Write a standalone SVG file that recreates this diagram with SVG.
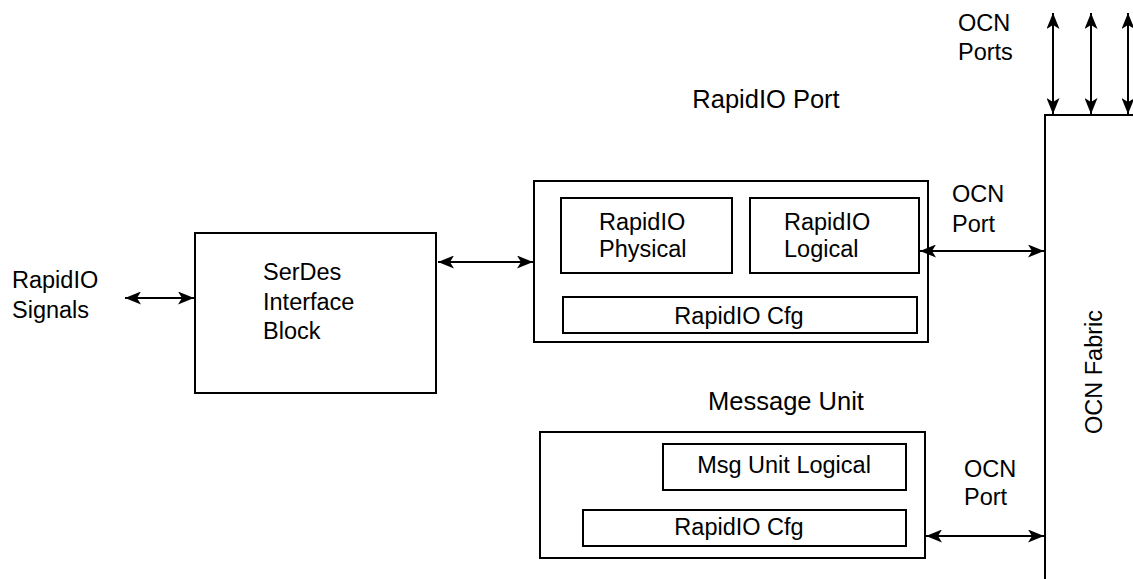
<svg xmlns="http://www.w3.org/2000/svg" width="1133" height="579" viewBox="0 0 1133 579">
<style>
.box{fill:none;stroke:#000;stroke-width:2}
.ln{fill:none;stroke:#000;stroke-width:2}
text{font-family:"Liberation Sans",Arial,sans-serif;font-size:23.5px;fill:#000}
.title{font-size:25.5px}
</style>
<defs>
<marker id="ah" markerWidth="17" markerHeight="13" refX="16" refY="6.5" orient="auto-start-reverse" markerUnits="userSpaceOnUse">
<path d="M0,0 L16,6.5 L0,13 L4,6.5 Z" fill="#000"/>
</marker>
</defs>
<rect width="1133" height="579" fill="#fff"/>
<g id="fabric">
<path class="ln" d="M1045,579 L1045,115 L1133,115"/>
<text transform="translate(1102,372) rotate(-90)" text-anchor="middle">OCN Fabric</text>
</g>
<g id="ocn-ports-label">
<text x="958" y="31">OCN</text>
<text x="958" y="60">Ports</text>
</g>
<g id="signals-label">
<text x="12" y="288">RapidIO</text>
<text x="12" y="318">Signals</text>
</g>
<g id="serdes">
<rect class="box" x="195" y="233" width="241" height="160"/>
<text x="263" y="280">SerDes</text>
<text x="263" y="310">Interface</text>
<text x="263" y="339">Block</text>
</g>
<g id="rapidio-port">
<text class="title" x="766" y="108" text-anchor="middle">RapidIO Port</text>
<rect class="box" x="534" y="181" width="394" height="161"/>
<g id="physical">
<rect class="box" x="561" y="198" width="171" height="75"/>
<text x="599" y="230">RapidIO</text>
<text x="599" y="257">Physical</text>
</g>
<g id="logical">
<rect class="box" x="750" y="198" width="169" height="75"/>
<text x="784" y="230">RapidIO</text>
<text x="784" y="257">Logical</text>
</g>
<g id="port-cfg">
<rect class="box" x="563" y="297" width="354" height="36"/>
<text x="739" y="324" text-anchor="middle">RapidIO Cfg</text>
</g>
</g>
<g id="message-unit">
<text class="title" x="786" y="410" text-anchor="middle">Message Unit</text>
<rect class="box" x="540" y="432" width="385" height="126"/>
<g id="msg-logical">
<rect class="box" x="663" y="444" width="243" height="46"/>
<text x="784" y="473" text-anchor="middle">Msg Unit Logical</text>
</g>
<g id="msg-cfg">
<rect class="box" x="583" y="510" width="323" height="36"/>
<text x="739" y="535" text-anchor="middle">RapidIO Cfg</text>
</g>
</g>
<g id="ocn-port-labels">
<text x="952" y="202">OCN</text>
<text x="952" y="232">Port</text>
<text x="964" y="477">OCN</text>
<text x="964" y="505">Port</text>
</g>
<g id="connectors">
<line class="ln" x1="1053" y1="13" x2="1053" y2="114" marker-start="url(#ah)" marker-end="url(#ah)"/>
<line class="ln" x1="1091" y1="13" x2="1091" y2="114" marker-start="url(#ah)" marker-end="url(#ah)"/>
<line class="ln" x1="1128" y1="13" x2="1128" y2="114" marker-start="url(#ah)" marker-end="url(#ah)"/>
<line class="ln" x1="125" y1="298" x2="194" y2="298" marker-start="url(#ah)" marker-end="url(#ah)"/>
<line class="ln" x1="438" y1="262" x2="533" y2="262" marker-start="url(#ah)" marker-end="url(#ah)"/>
<line class="ln" x1="920" y1="251" x2="1044" y2="251" marker-start="url(#ah)" marker-end="url(#ah)"/>
<line class="ln" x1="926" y1="536" x2="1044" y2="536" marker-start="url(#ah)" marker-end="url(#ah)"/>
</g>
</svg>
